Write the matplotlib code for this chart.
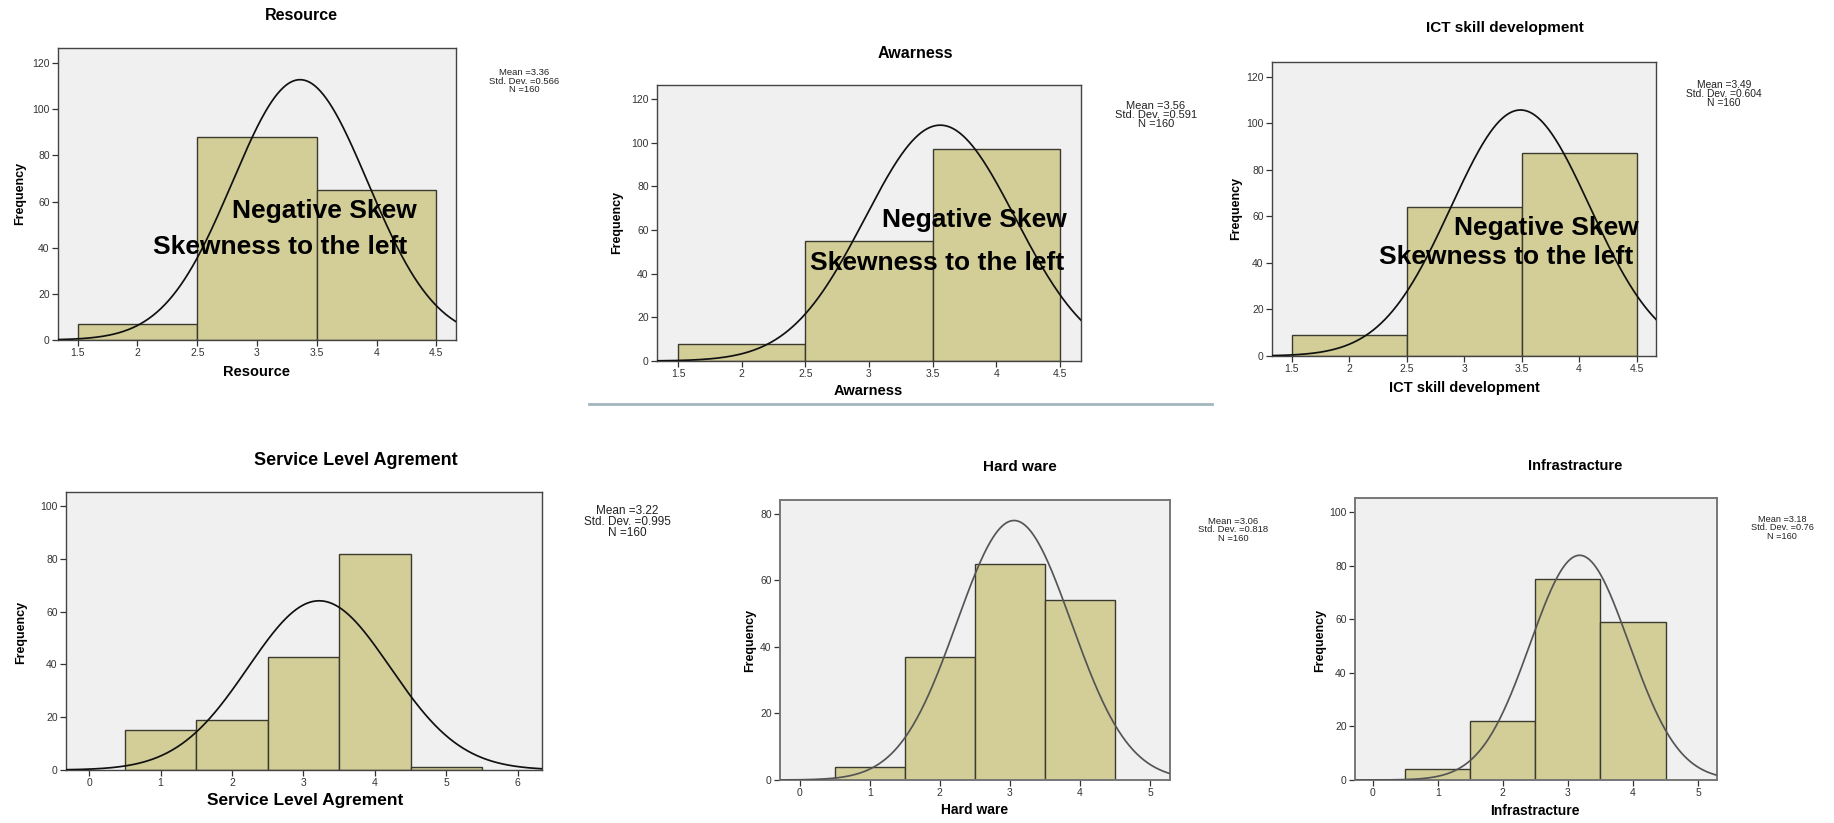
"""Six SPSS-style histograms with fitted normal curves."""

import numpy as np
import matplotlib

matplotlib.use("Agg")
import matplotlib.pyplot as plt  # noqa: E402
from matplotlib.lines import Line2D  # noqa: E402

plt.rcParams["font.family"] = ["Liberation Sans", "DejaVu Sans"]

W, H = 1834, 823
N_CASES = 160

TITLES = [
    "Resource",
    "Awarness",
    "ICT skill development",
    "Service Level Agrement",
    "Hard ware",
    "Infrastracture",
]
BIN_CENTERS = [
    [2, 3, 4],
    [2, 3, 4],
    [2, 3, 4],
    [1, 2, 3, 4, 5],
    [1, 2, 3, 4],
    [1, 2, 3, 4],
]
COUNTS = [
    [7, 88, 65],
    [8, 55, 97],
    [9, 64, 87],
    [15, 19, 43, 82, 1],
    [4, 37, 65, 54],
    [4, 22, 75, 59],
]
MEANS = [3.36, 3.56, 3.49, 3.22, 3.06, 3.18]
STD_DEVS = [0.566, 0.591, 0.604, 0.995, 0.818, 0.76]
X_TICKS = [
    [1.5, 2, 2.5, 3, 3.5, 4, 4.5],
    [1.5, 2, 2.5, 3, 3.5, 4, 4.5],
    [1.5, 2, 2.5, 3, 3.5, 4, 4.5],
    [0, 1, 2, 3, 4, 5, 6],
    [0, 1, 2, 3, 4, 5],
    [0, 1, 2, 3, 4, 5],
]
Y_TICKS = [
    [0, 20, 40, 60, 80, 100, 120],
    [0, 20, 40, 60, 80, 100, 120],
    [0, 20, 40, 60, 80, 100, 120],
    [0, 20, 40, 60, 80, 100],
    [0, 20, 40, 60, 80],
    [0, 20, 40, 60, 80, 100],
]
X_LIMS = [(1.336, 4.664), (1.333, 4.667), (1.328, 4.669), (-0.325, 6.34), (-0.281, 5.286), (-0.27, 5.29)]
Y_MAX = [126.5, 126.4, 126.3, 105.4, 84.2, 105.4]
SKEW_NOTE = ["Negative Skew", "Skewness to the left"]

# layout in pixels of the original picture: axes box (left, top, right, bottom)
BOXES = [
    (58, 48, 456, 340),
    (657, 85, 1081, 361),
    (1272, 62, 1656, 356),
    (66, 492, 542, 770),
    (780, 500, 1170, 780),
    (1355, 498, 1717, 780),
]
TITLE_POS = [(301, 15), (915, 53), (1505, 28), (356, 461), (1020, 467), (1575, 466)]
XLABEL_POS = [(257, 372), (868, 391), (1464, 388), (305, 800), (975, 810), (1535, 811)]
YLABEL_POS = [(20, 193), (617, 222), (1236, 208), (21, 632), (750, 640), (1320, 640)]
STATS_POS = [(524, 81), (1156, 115), (1724, 94), (627, 522), (1233, 530), (1782, 528)]
NOTE_POS = [
    [(324, 211), (280, 247)],
    [(974, 220), (937, 263)],
    [(1546, 228), (1506, 257)],
]
TITLE_SIZE = [11.5, 11.5, 11, 13, 11, 10.5]
XLABEL_SIZE = [10.5, 10.5, 10.5, 12.5, 10, 10]
STATS_SIZE = [6.8, 8, 7.4, 8.5, 6.8, 6.6]

BAR_FACE = "#d3ce98"
BAR_EDGE = "#3a3a30"
PANEL_BG = "#f0f0f0"


def fx(x):
    return x / W


def fy(y):
    return 1 - y / H


def draw_panel(fig, i):
    left, top, right, bottom = BOXES[i]
    ax = fig.add_axes([fx(left), fy(bottom), (right - left) / W, (bottom - top) / H])
    ax.set_facecolor(PANEL_BG)
    soft = i >= 4
    ax.bar(BIN_CENTERS[i], COUNTS[i], width=1.0, color=BAR_FACE, edgecolor=BAR_EDGE, linewidth=1.0, zorder=2)

    xs = np.linspace(X_LIMS[i][0], X_LIMS[i][1], 400)
    sd = STD_DEVS[i]
    ys = N_CASES / (sd * np.sqrt(2 * np.pi)) * np.exp(-0.5 * ((xs - MEANS[i]) / sd) ** 2)
    ax.plot(xs, ys, color="#555555" if soft else "#111111", linewidth=1.25, zorder=3)

    ax.set_xlim(*X_LIMS[i])
    ax.set_ylim(0, Y_MAX[i])
    ax.set_xticks(X_TICKS[i])
    ax.set_xticklabels([f"{t:g}" for t in X_TICKS[i]])
    ax.set_yticks(Y_TICKS[i])
    ax.tick_params(direction="out", length=4, width=0.9, labelsize=7.5, colors="#333333", pad=2)
    for spine in ax.spines.values():
        spine.set_color("#777777" if soft else "#444444")
        spine.set_linewidth(1.4 if soft else 1.0)

    fig.text(fx(TITLE_POS[i][0]), fy(TITLE_POS[i][1]), TITLES[i], ha="center", va="center",
             fontsize=TITLE_SIZE[i], fontweight="bold")
    fig.text(fx(XLABEL_POS[i][0]), fy(XLABEL_POS[i][1]), TITLES[i], ha="center", va="center",
             fontsize=XLABEL_SIZE[i], fontweight="bold")
    fig.text(fx(YLABEL_POS[i][0]), fy(YLABEL_POS[i][1]), "Frequency", ha="center", va="center",
             rotation=90, fontsize=9, fontweight="bold")
    stats = f"Mean ={MEANS[i]:.2f}\nStd. Dev. ={STD_DEVS[i]:g}\nN ={N_CASES}"
    fig.text(fx(STATS_POS[i][0]), fy(STATS_POS[i][1]), stats, ha="center", va="center",
             fontsize=STATS_SIZE[i], color="#222222", linespacing=0.88, multialignment="center")

    if i < len(NOTE_POS):
        for text, (x, y) in zip(SKEW_NOTE, NOTE_POS[i]):
            fig.text(fx(x), fy(y), text, ha="center", va="center", fontsize=19,
                     fontweight="bold", color="black", zorder=5)


def main():
    fig = plt.figure(figsize=(W / 100, H / 100), dpi=100)
    fig.patch.set_facecolor("white")
    for i in range(len(TITLES)):
        draw_panel(fig, i)
    fig.add_artist(Line2D([fx(589), fx(1212)], [fy(404), fy(404)], color="#a3b5bd", linewidth=2))
    fig.savefig("out.png", dpi=100)
    plt.close(fig)


if __name__ == "__main__":
    main()
